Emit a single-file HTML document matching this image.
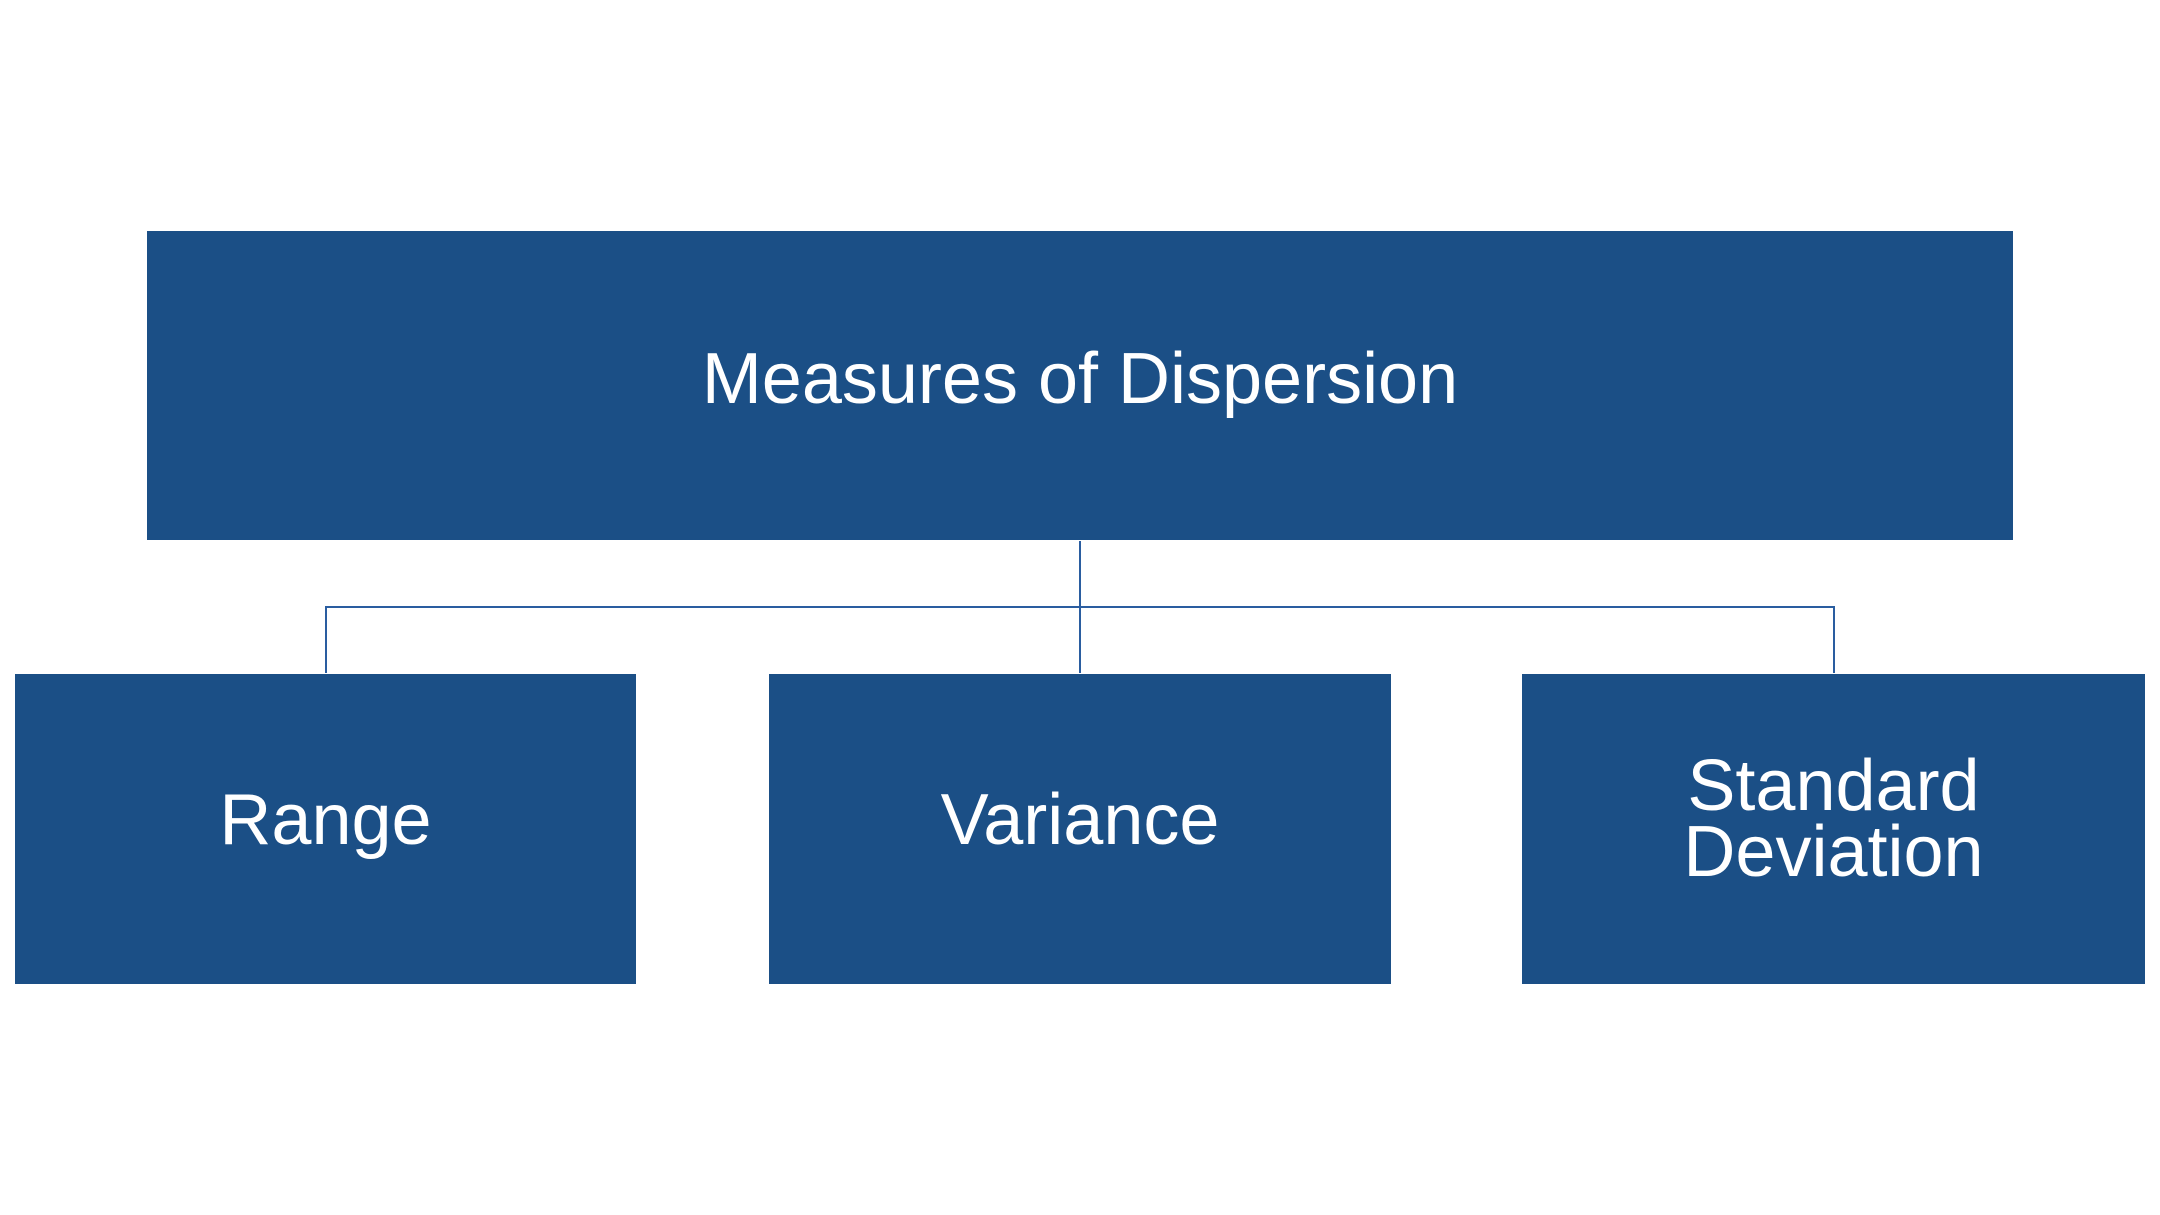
<!DOCTYPE html>
<html><head><style>
body{margin:0;width:2160px;height:1215px;background:#fff;position:relative;overflow:hidden;font-family:"Liberation Sans",sans-serif;}
.b{position:absolute;background:#1b4f86;color:#fff;display:flex;align-items:center;justify-content:center;text-align:center;}
.l{position:absolute;background:#2a5da0;}
</style></head><body>
<div class="b" style="left:147px;top:231px;width:1866px;height:309px;font-size:72px"><span style="position:relative;top:-7px">Measures of Dispersion</span></div>
<div class="l" style="left:1079px;top:541px;width:2px;height:132px"></div>
<div class="l" style="left:325px;top:606px;width:1510px;height:2px"></div>
<div class="l" style="left:325px;top:606px;width:2px;height:67px"></div>
<div class="l" style="left:1833px;top:606px;width:2px;height:67px"></div>
<div class="b" style="left:15px;top:674px;width:621px;height:310px;font-size:72px"><span style="position:relative;top:-9px">Range</span></div>
<div class="b" style="left:769px;top:674px;width:622px;height:310px;font-size:72px"><span style="position:relative;top:-9px">Variance</span></div>
<div class="b" style="left:1522px;top:674px;width:623px;height:310px;font-size:72px;line-height:66px"><span style="position:relative;top:-10px">Standard<br>Deviation</span></div>
</body></html>
